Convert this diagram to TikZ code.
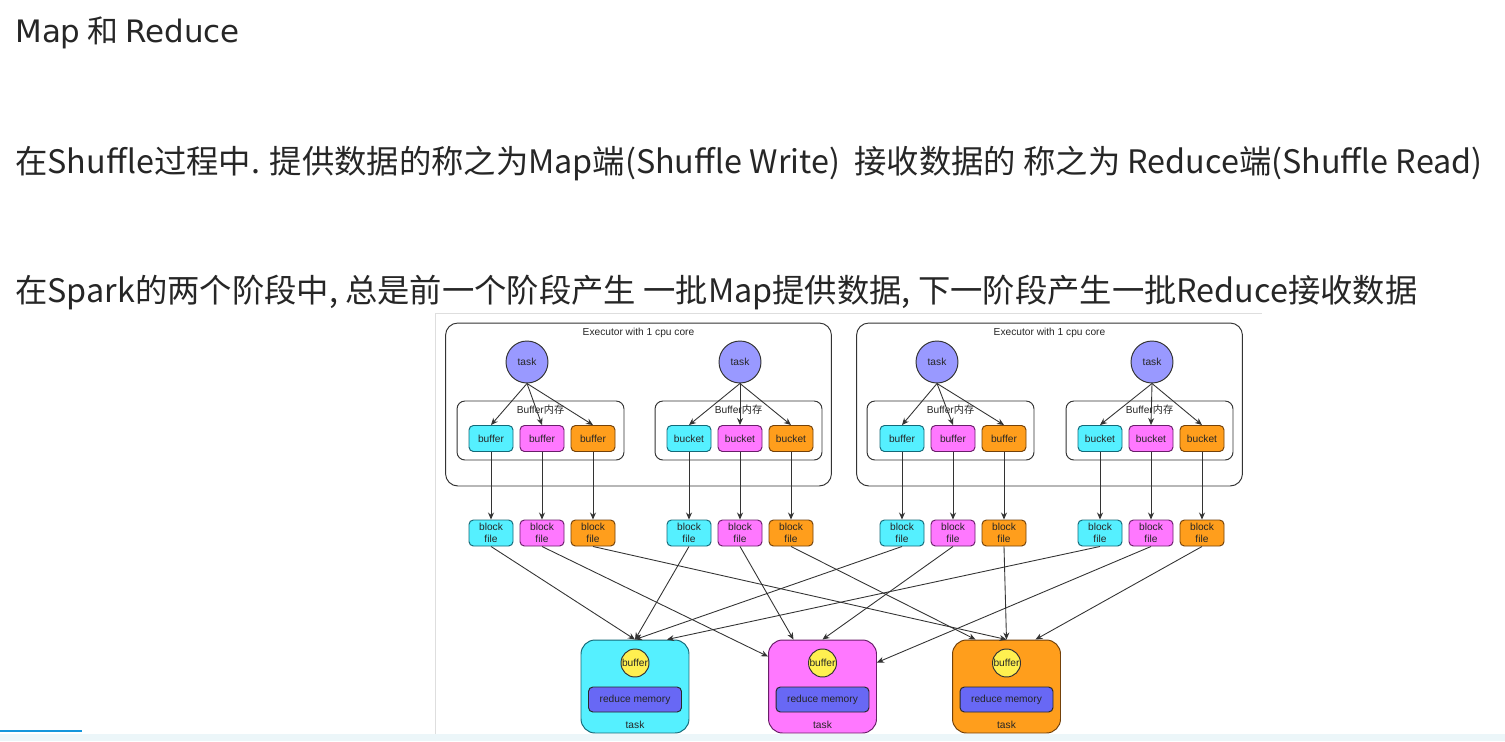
\documentclass[tikz,border=0pt]{standalone}
\usepackage{fontspec}
\setmainfont{Liberation Sans}
\newfontfamily\cjk{Noto Sans CJK SC}
\newfontfamily\titlefont{DejaVu Sans}
\usetikzlibrary{arrows.meta, calc, positioning}
\definecolor{inkcol}{RGB}{51, 51, 51}
\definecolor{textcol}{RGB}{38, 38, 38}
\definecolor{cyancol}{RGB}{85, 240, 255}
\definecolor{cyanline}{RGB}{20, 105, 120}
\definecolor{magcol}{RGB}{255, 120, 255}
\definecolor{magline}{RGB}{105, 30, 105}
\definecolor{orgcol}{RGB}{255, 158, 28}
\definecolor{orgline}{RGB}{115, 65, 10}
\definecolor{taskcol}{RGB}{153, 153, 255}
\definecolor{yelcol}{RGB}{255, 240, 80}
\definecolor{memcol}{RGB}{104, 104, 245}
\definecolor{panelcol}{RGB}{222, 222, 222}
\definecolor{barcol}{RGB}{236, 246, 249}
\definecolor{progcol}{RGB}{20, 150, 220}
\tikzset{
  headtxt/.style = {font=\cjk\fontsize{18.4}{21}\selectfont, text=textcol,
                    inner sep=0pt},
  dtext/.style   = {font=\fontsize{5.8}{6.8}\selectfont, text=black!85,
                    inner sep=1pt},
  execbox/.style = {draw=inkcol, line width=0.55pt, rounded corners=7pt,
                    minimum width=7.72cm, minimum height=3.26cm},
  membox/.style  = {draw=inkcol, line width=0.55pt, rounded corners=4.5pt,
                    minimum width=3.34cm, minimum height=1.18cm},
  taskcirc/.style = {dtext, circle, draw=inkcol, line width=0.55pt, fill=taskcol,
                     minimum size=0.84cm},
  mapbox/.style  = {dtext, draw=#1line, line width=0.55pt, fill=#1col,
                    rounded corners=2.5pt, minimum width=0.88cm,
                    minimum height=0.52cm, inner sep=0pt, align=center},
  redbox/.style  = {draw=#1line, line width=0.55pt, fill=#1col, rounded corners=8pt,
                    minimum width=2.16cm, minimum height=1.86cm},
  rbufcirc/.style = {dtext, circle, draw=inkcol, line width=0.55pt, fill=yelcol,
                     inner sep=0pt, minimum size=0.56cm},
  rmembox/.style = {dtext, draw=inkcol!80!black, line width=0.55pt, fill=memcol,
                    rounded corners=2.5pt, minimum width=1.86cm, minimum height=0.5cm},
  flow/.style    = {-{Stealth[length=1.4mm, width=1.2mm]}, draw=inkcol,
                    line width=0.5pt},
}

\begin{document}
\begin{tikzpicture}[x=0.02cm, y=-0.02cm]
  \useasboundingbox (0,0) rectangle (1505,741);
  \fill[white] (0,0) rectangle (1505,741);

  %% ---------------- slide text ----------------
  \node[headtxt, font=\cjk\fontsize{17.6}{20}\selectfont, anchor=base west] (title) at (15,42)
       {{\titlefont Map} 和 {\titlefont Reduce}};
  \node[headtxt, anchor=base west] (line1) at (15,173)
       {在Shuffle过程中. 提供数据的称之为Map端(Shuffle Write)\ \ 接收数据的 称之为 Reduce端(Shuffle Read)};
  \node[headtxt, anchor=base west] (line2) at (15,302)
       {在Spark的两个阶段中, 总是前一个阶段产生 一批Map提供数据, 下一阶段产生一批Reduce接收数据};

  %% ---------------- diagram panel ----------------
  \draw[panelcol] (435,741) -- (435,313) -- (1262,313);

  %% ---------------- map side: executors ----------------
  \node[execbox] (ex1) at (638.5,404.5) {};
  \node[dtext, below=0.06cm of ex1.north] (ex1lbl) {Executor with 1 cpu core};
  \node[execbox] (ex2) at (1049.5,404.5) {};
  \node[dtext, below=0.06cm of ex2.north] (ex2lbl) {Executor with 1 cpu core};

  \foreach \i/\tx/\bx/\mx/\word in {1/527/491/540.5/buffer, 2/740/689/738.5/bucket,
                                    3/937/902/950.5/buffer, 4/1152/1100/1149.5/bucket} {
    \node[membox] (mem\i) at (\mx,430.5) {};
    \node[dtext, below=0.04cm of mem\i.north] (memlbl\i) {Buffer{\cjk 内存}};
    \node[taskcirc] (t\i) at (\tx,362) {task};
    \foreach \j/\col in {0/cyan, 1/mag, 2/org} {
      \node[mapbox=\col] (c\i-\j) at (\bx+51*\j,438.5) {\word};
      \node[mapbox=\col] (f\i-\j) at (\bx+51*\j,533) {block\\file};
      \draw[flow] (t\i.south) -- (c\i-\j.north);
      \draw[flow] (c\i-\j.south) -- (f\i-\j.north);
    }
  }

  %% ---------------- reduce side ----------------
  \foreach \k/\col/\rx in {1/cyan/635, 2/mag/822.5, 3/org/1006.5} {
    \node[redbox=\col] (r\k) at (\rx,686.5) {};
    \node[rbufcirc] (rb\k) at (\rx,663) {buffer};
    \node[rmembox] (rm\k) at (\rx,699.5) {reduce memory};
    \node[dtext] (rt\k) at (\rx,725) {task};
  }

  \coordinate (r1in) at ($(r1.north)+(32,0)$);
  \coordinate (r2l)  at ($(r2.west)+(0,-30)$);
  \coordinate (r2a)  at ($(r2.north)+(-29,0)$);
  \coordinate (r2r)  at ($(r2.east)+(0,-24)$);
  \coordinate (r3a)  at ($(r3.north)+(-31,0)$);
  \coordinate (r3b)  at ($(r3.north)+(29,0)$);

  %% shuffle: every block file to the reduce task of its colour
  \draw[flow] (f1-0.south) -- (r1.north);
  \draw[flow] (f2-0.south) -- (r1.north);
  \draw[flow] (f3-0.south) -- (r1.north);
  \draw[flow] (f4-0.south) -- (r1in);
  \draw[flow] (f1-1.south) -- (r2l);
  \draw[flow] (f2-1.south) -- (r2a);
  \draw[flow] (f3-1.south) -- (r2.north);
  \draw[flow] (f4-1.south) -- (r2r);
  \draw[flow] (f1-2.south) -- (r3.north);
  \draw[flow] (f2-2.south) -- (r3a);
  \draw[flow] (f3-2.south) -- (r3.north);
  \draw[flow] (f4-2.south) -- (r3b);

  %% player strip at the bottom
  \fill[barcol] (0,734) rectangle (1505,741);
  \draw[progcol, line width=1.2pt] (0,731) -- (82,731);
\end{tikzpicture}
\end{document}
